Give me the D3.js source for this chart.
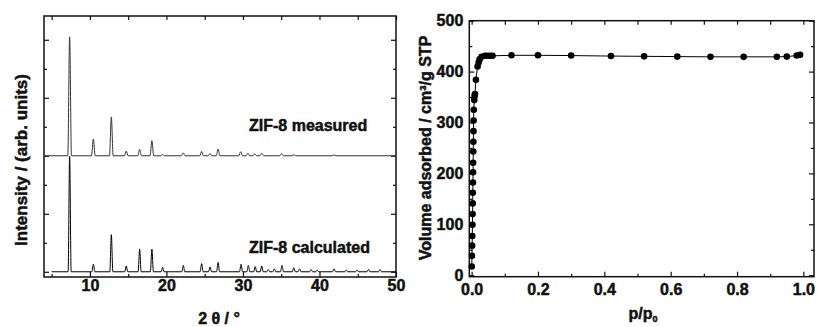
<!DOCTYPE html>
<html>
<head>
<meta charset="utf-8">
<script src="https://cdn.jsdelivr.net/npm/d3@7"></script>
<style>
  body { margin: 0; background: #fff; }
  svg { font-family: "Liberation Sans", Arial, sans-serif; font-weight: bold; }
  svg text { fill: #111; stroke: #111; stroke-width: 0.5px; }
  .tick text { font-family: "Liberation Sans", Arial, sans-serif; font-size: 16px; font-weight: bold; }
  .tick line { stroke: #111; stroke-width: 1.2; }
</style>
</head>
<body>
<div id="chart"></div>
<script>
// ZIF-8 powder pattern, peaks (2theta, relative intensity)
var measuredPos = [7.35, 10.45, 12.8, 14.75, 16.5, 18.1, 19.5, 22.2, 24.6, 25.7, 26.75, 29.7, 30.65, 31.55, 32.45, 35.05, 36.65, 41.9];
var measuredInt = [2.05, 0.29, 0.67, 0.08, 0.11, 0.26, 0.02, 0.05, 0.075, 0.04, 0.115, 0.07, 0.045, 0.035, 0.045, 0.04, 0.02, 0.015];
var calcPos = [7.35, 10.45, 12.8, 14.75, 16.5, 18.1, 19.5, 22.2, 24.6, 25.7, 26.75, 29.75, 30.7, 31.6, 32.45, 33.3, 34.1, 35.1, 36.65, 37.4, 38.9, 39.7, 41.9, 43.5, 44.9, 46.4, 47.9];
var calcInt = [1.99, 0.13, 0.64, 0.10, 0.39, 0.39, 0.075, 0.11, 0.14, 0.08, 0.16, 0.13, 0.11, 0.09, 0.10, 0.04, 0.05, 0.11, 0.07, 0.05, 0.04, 0.03, 0.05, 0.03, 0.03, 0.04, 0.04];
var measuredOffset = 2.0;

// N2 isotherm (p/p0, cm3/g STP)
var pRel = [0.0005, 0.001, 0.0015, 0.002, 0.0025, 0.003, 0.0033, 0.0036, 0.004, 0.0043, 0.0046, 0.005, 0.0053, 0.0056, 0.006, 0.0065, 0.008, 0.009, 0.010, 0.013, 0.018, 0.021, 0.024, 0.030, 0.040, 0.047, 0.055, 0.063, 0.12, 0.20, 0.30, 0.42, 0.52, 0.62, 0.72, 0.82, 0.92, 0.95, 0.98, 0.99];
var vAds = [17, 38, 58, 77, 99, 120, 141, 162, 182, 202, 221, 243, 262, 283, 304, 325, 344, 352, 356, 384, 410, 418, 424, 429, 431, 431, 431, 431, 432, 432, 431.5, 430.5, 430, 429.5, 429, 429, 429, 429.5, 431.5, 433];

var svg = d3.select("#chart").append("svg")
    .attr("width", 817)
    .attr("height", 327);

// ---------- left panel: XRD ----------
var x1 = d3.scaleLinear().domain([4, 50]).range([44, 396]);
var y1 = d3.scaleLinear().domain([-0.09, 4.41]).range([277, 16]);

function addAxes(x, y, xMajor, xMinor, yMajor, yMinor, xFmt, yFmt, xPad, yPad) {
    var bx = y.range()[0], ty = y.range()[1], lx = x.range()[0], rx = x.range()[1];
    var g = svg.append("g");
    g.append("g").attr("transform", "translate(0," + bx + ")")
        .call(d3.axisBottom(x).tickValues(xMajor).tickSizeInner(-5).tickSizeOuter(0).tickPadding(xPad).tickFormat(xFmt));
    g.append("g").attr("transform", "translate(0," + bx + ")")
        .call(d3.axisBottom(x).tickValues(xMinor).tickSizeInner(-3).tickSizeOuter(0).tickFormat(""));
    g.append("g").attr("transform", "translate(0," + ty + ")")
        .call(d3.axisTop(x).tickValues(xMajor.concat(xMinor)).tickSizeInner(-4).tickSizeOuter(0).tickFormat(""));
    g.append("g").attr("transform", "translate(" + lx + ",0)")
        .call(d3.axisLeft(y).tickValues(yMajor).tickSizeInner(-5).tickSizeOuter(0).tickPadding(yPad).tickFormat(yFmt));
    g.append("g").attr("transform", "translate(" + lx + ",0)")
        .call(d3.axisLeft(y).tickValues(yMinor).tickSizeInner(-3).tickSizeOuter(0).tickFormat(""));
    g.append("g").attr("transform", "translate(" + rx + ",0)")
        .call(d3.axisRight(y).tickValues(yMajor).tickSizeInner(-5).tickSizeOuter(0).tickFormat(""));
    g.append("g").attr("transform", "translate(" + rx + ",0)")
        .call(d3.axisRight(y).tickValues(yMinor).tickSizeInner(-3).tickSizeOuter(0).tickFormat(""));
    g.selectAll(".domain").remove();
    g.append("rect")
        .attr("x", lx).attr("y", ty)
        .attr("width", rx - lx).attr("height", bx - ty)
        .attr("fill", "none").attr("stroke", "#111").attr("stroke-width", 1.5);
}

addAxes(x1, y1, [10, 20, 30, 40, 50], [5, 15, 25, 35, 45], [0, 1, 2, 3, 4], [0.5, 1.5, 2.5, 3.5],
    d3.format("d"), "", 2.5, 3);

// build a pattern line from the peak list: baseline, then up/down at each peak
function patternPoints(pos, inten, start, end, hw, offset) {
    var pts = [[start, offset]];
    pos.forEach(function (p, i) {
        pts.push([p - hw, offset], [p, offset + inten[i]], [p + hw, offset]);
    });
    pts.push([end, offset]);
    return pts;
}

var patternLine = d3.line()
    .x(function (d) { return x1(d[0]); })
    .y(function (d) { return y1(d[1]); })
    .curve(d3.curveMonotoneX);

svg.append("path")
    .datum(patternPoints(measuredPos, measuredInt, 4.05, 50, 0.24, measuredOffset))
    .attr("d", patternLine)
    .attr("fill", "none").attr("stroke", "#333").attr("stroke-width", 1);

svg.append("path")
    .datum(patternPoints(calcPos, calcInt, 5, 50, 0.2, 0))
    .attr("d", patternLine)
    .attr("fill", "none").attr("stroke", "#000").attr("stroke-width", 1);

svg.append("text").attr("x", 249).attr("y", 131)
    .style("font-size", "16px").text("ZIF-8 measured");
svg.append("text").attr("x", 249).attr("y", 253)
    .style("font-size", "16px").text("ZIF-8 calculated");

svg.append("text")
    .attr("transform", "translate(27,160) rotate(-90)")
    .attr("text-anchor", "middle")
    .style("font-size", "17px")
    .text("Intensity / (arb. units)");

svg.append("text")
    .attr("x", 219).attr("y", 324)
    .attr("text-anchor", "middle")
    .style("font-size", "16px")
    .text("2 θ / °");

// ---------- right panel: isotherm ----------
var x2 = d3.scaleLinear().domain([-0.007, 1.032]).range([469.3, 814]);
var y2 = d3.scaleLinear().domain([-3, 500]).range([276.7, 20.7]);

addAxes(x2, y2, [0, 0.2, 0.4, 0.6, 0.8, 1.0], [0.1, 0.3, 0.5, 0.7, 0.9], [0, 100, 200, 300, 400, 500],
    [50, 150, 250, 350, 450], d3.format(".1f"), d3.format("d"), 6.5, 6);

var iso = pRel.map(function (p, i) { return [p, vAds[i]]; });

svg.append("path")
    .datum(iso)
    .attr("d", d3.line()
        .x(function (d) { return x2(d[0]); })
        .y(function (d) { return y2(d[1]); }))
    .attr("fill", "none").attr("stroke", "#000").attr("stroke-width", 1);

svg.selectAll(".dot")
    .data(iso)
    .enter()
    .append("circle")
    .attr("class", "dot")
    .attr("cx", function (d) { return x2(d[0]); })
    .attr("cy", function (d) { return y2(d[1]); })
    .attr("r", 3.3)
    .attr("fill", "#000");

svg.append("text")
    .attr("transform", "translate(431,148) rotate(-90)")
    .attr("text-anchor", "middle")
    .style("font-size", "16px")
    .text("Volume adsorbed / cm³/g STP");

var pl = svg.append("text")
    .attr("x", 643).attr("y", 319)
    .attr("text-anchor", "middle")
    .style("font-size", "16px");
pl.append("tspan").text("p/p");
pl.append("tspan").attr("dy", 3).style("font-size", "9px").text("0");
</script>
</body>
</html>
